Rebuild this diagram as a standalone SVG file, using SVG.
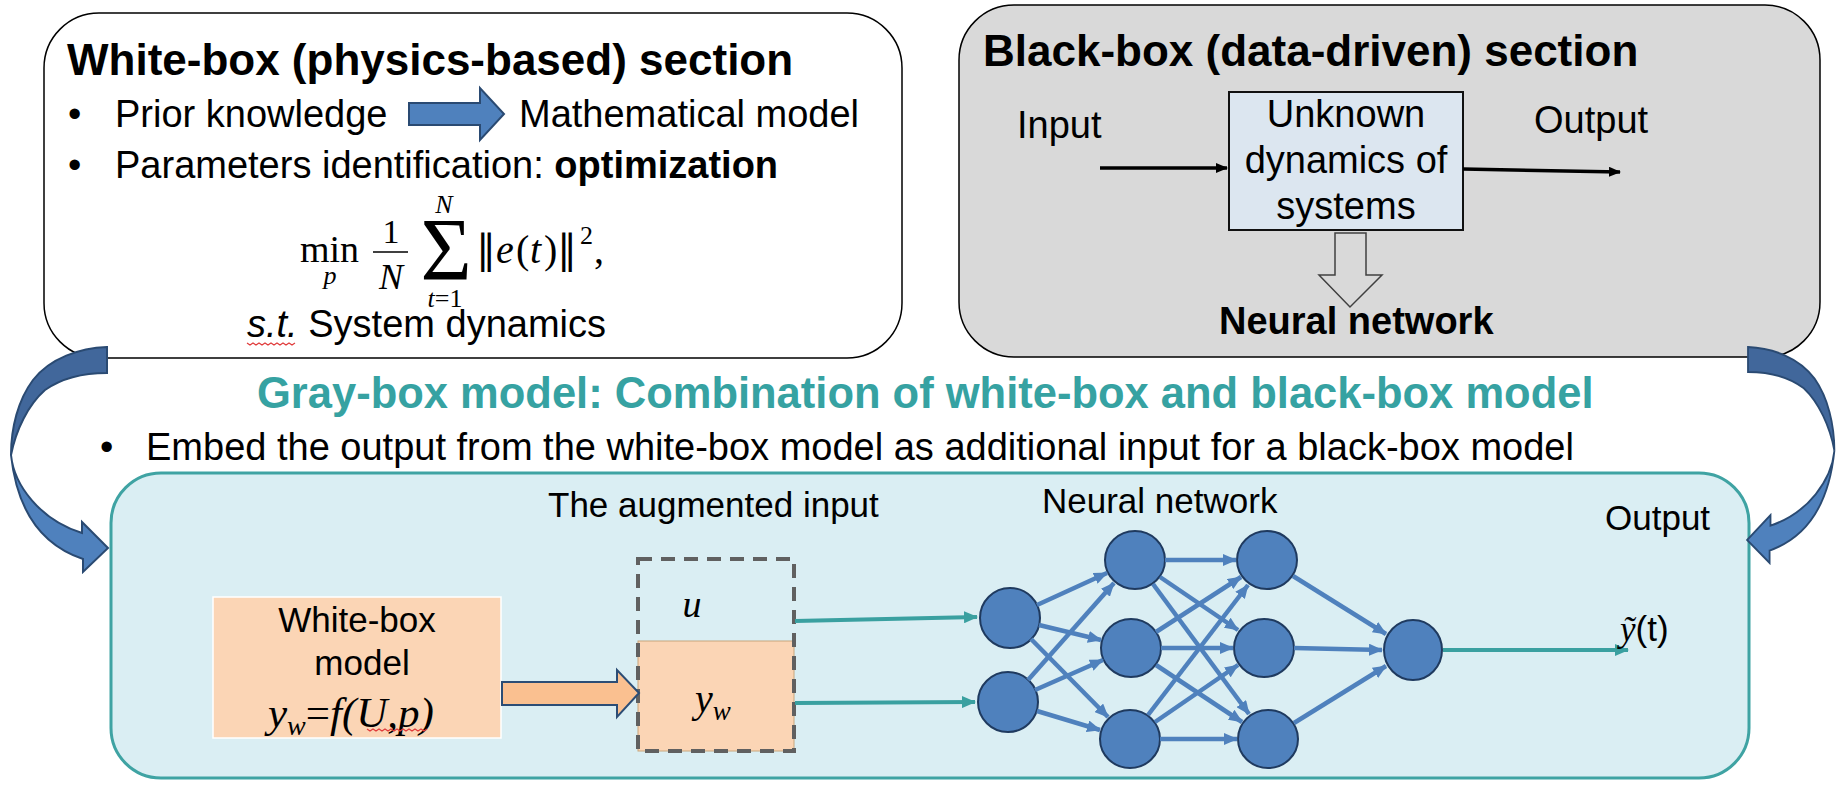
<svg xmlns="http://www.w3.org/2000/svg" width="1848" height="799" viewBox="0 0 1848 799">
<defs>
<style>
.t{font-family:"Liberation Sans",Arial,sans-serif;fill:#000}
.b{font-weight:bold}
.m{font-family:"Liberation Serif","DejaVu Serif",serif;fill:#000}
.i{font-style:italic}
.nn{fill:#4f81bd;stroke:#1f3a5f;stroke-width:2}
.e{stroke:#4f81bd;stroke-width:4.5;fill:none;marker-end:url(#ab)}
.tl{stroke:#3aa0a0;stroke-width:4;fill:none;marker-end:url(#at)}
.sq{fill:none;stroke:#e03a3a;stroke-width:1.2}
</style>
<marker id="ab" markerUnits="userSpaceOnUse" markerWidth="14" markerHeight="12" refX="13" refY="6" orient="auto"><path d="M0,0 L14,6 L0,12 z" fill="#4f81bd"/></marker>
<marker id="at" markerUnits="userSpaceOnUse" markerWidth="14" markerHeight="12" refX="13" refY="6" orient="auto"><path d="M0,0 L14,6 L0,12 z" fill="#3aa0a0"/></marker>
<marker id="ak" markerUnits="userSpaceOnUse" markerWidth="12" markerHeight="10" refX="11" refY="5" orient="auto"><path d="M0,0 L12,5 L0,10 z" fill="#000"/></marker>
<g id="curvedArrow">
<path d="M107,347 C80,348 50,358 33,380 C18,400 11,428 11,455 C16,430 28,405 45,390 C62,378 85,373 107,373 Z" fill="#41679b" stroke="#2a4a72" stroke-width="2"/>
<path d="M11,455 C14,485 40,520 82,533 L82,522 L108,548 L83,572 L83,559 C50,548 18,520 11,455 Z" fill="#4f81bd" stroke="#2a4a72" stroke-width="2"/>
</g>
</defs>
<rect width="1848" height="799" fill="#fff"/>

<g id="whitebox">
<rect x="44" y="13" width="858" height="345" rx="55" fill="#fff" stroke="#000" stroke-width="1.5"/>
<text class="t b" x="67" y="75" font-size="44">White-box (physics-based) section</text>
<text class="t" x="68" y="127" font-size="38">•</text>
<text class="t" x="115" y="127" font-size="38">Prior knowledge</text>
<path d="M409,103 L480,103 L480,88 L504,114 L480,140 L480,125 L409,125 Z" fill="#4f81bd" stroke="#2a4a72" stroke-width="2"/>
<text class="t" x="519" y="127" font-size="38">Mathematical model</text>
<text class="t" x="68" y="178" font-size="38">•</text>
<text class="t" x="115" y="178" font-size="38">Parameters identification: <tspan class="b">optimization</tspan></text>
<text class="m" x="300" y="262" font-size="38">min</text>
<text class="m i" x="330" y="284" font-size="26" text-anchor="middle">p</text>
<text class="m" x="391" y="243" font-size="34" text-anchor="middle">1</text>
<line x1="373" y1="252" x2="408" y2="252" stroke="#000" stroke-width="1.6"/>
<text class="m i" x="391" y="289" font-size="36" text-anchor="middle">N</text>
<text class="m i" x="444" y="213" font-size="26" text-anchor="middle">N</text>
<text class="m" x="446" y="279" font-size="88" text-anchor="middle">Σ</text>
<text class="m" x="445" y="307" font-size="26" text-anchor="middle"><tspan class="i">t</tspan>=1</text>
<text class="m" y="263" font-size="40"><tspan x="476" font-family="DejaVu Serif">‖</tspan><tspan x="496" class="i">e</tspan><tspan x="516">(</tspan><tspan x="530" class="i">t</tspan><tspan x="544">)</tspan><tspan x="557" font-family="DejaVu Serif">‖</tspan></text>
<text class="m" x="580" y="244" font-size="26">2</text>
<text class="m" x="594" y="263" font-size="40">,</text>
<text class="t" x="247" y="337" font-size="38"><tspan class="i">s.t.</tspan> System dynamics</text>
<path class="sq" d="M247,343 l3,2 l3,-2 l3,2 l3,-2 l3,2 l3,-2 l3,2 l3,-2 l3,2 l3,-2 l3,2 l3,-2 l3,2 l3,-2 l3,2 l3,-2"/>
</g>

<g id="blackbox">
<rect x="959" y="5" width="861" height="352" rx="55" fill="#d9d9d9" stroke="#000" stroke-width="1.5"/>
<text class="t b" x="983" y="66" font-size="44">Black-box (data-driven) section</text>
<text class="t" x="1017" y="138" font-size="38">Input</text>
<text class="t" x="1534" y="133" font-size="38">Output</text>
<rect x="1229" y="92" width="234" height="138" fill="#dce6f0" stroke="#111" stroke-width="2"/>
<text class="t" x="1346" y="127" font-size="38" text-anchor="middle">Unknown</text>
<text class="t" x="1346" y="173" font-size="38" text-anchor="middle">dynamics of</text>
<text class="t" x="1346" y="219" font-size="38" text-anchor="middle">systems</text>
<path d="M1335,233 L1366,233 L1366,275 L1382,275 L1350,307 L1319,275 L1335,275 Z" fill="#d9d9d9" stroke="#404040" stroke-width="1.5"/>
<text class="t b" x="1219" y="334" font-size="38">Neural network</text>
</g>

<g id="graybox-title">
<text x="257" y="408" font-size="43.5" font-family="Liberation Sans, Arial, sans-serif" font-weight="bold" fill="#36a2a2">Gray-box model: Combination of white-box and black-box model</text>
<text class="t" x="100" y="460" font-size="38">•</text>
<text class="t" x="146" y="460" font-size="38">Embed the output from the white-box model as additional input for a black-box model</text>
</g>

<g id="graybox">
<rect x="111" y="473" width="1638" height="305" rx="50" fill="#daeef3" stroke="#3fa3a3" stroke-width="3"/>
<text class="t" x="548" y="517" font-size="35">The augmented input</text>
<text class="t" x="1042" y="513" font-size="35">Neural network</text>
<text class="t" x="1605" y="530" font-size="35">Output</text>
</g>

<g id="whitebox-model">
<rect x="213" y="597" width="288" height="141" fill="#fbd5b5" stroke="#fff" stroke-width="1.5"/>
<text class="t" x="357" y="632" font-size="35" text-anchor="middle">White-box</text>
<text class="t" x="362" y="675" font-size="35" text-anchor="middle">model</text>
<text class="m i" x="268" y="727" font-size="43">y<tspan font-size="28" dy="8">w</tspan><tspan dy="-8" font-style="normal">=</tspan>f(U,p)</text>
<path class="sq" d="M367,729 l3,2 l3,-2 l3,2 l3,-2 l3,2 l3,-2 l3,2 l3,-2 l3,2 l3,-2 l3,2 l3,-2 l3,2 l3,-2 l3,2 l3,-2 l3,2 l3,-2 l3,2 l3,-2"/>
</g>

<g id="augmented-input">
<rect x="638" y="641" width="156" height="110" fill="#fbd5b5" stroke="#c8a67c" stroke-width="1"/>
<rect x="638" y="559" width="156" height="192" fill="none" stroke="#606060" stroke-width="4" stroke-dasharray="14,9"/>
<text class="m i" x="692" y="617" font-size="38" text-anchor="middle">u</text>
<text class="m i" x="695" y="712" font-size="40">y<tspan font-size="27" dy="8">w</tspan></text>
</g>

<g id="nodes">
<ellipse id="n1a" class="nn" cx="1010" cy="618" rx="30" ry="30"/>
<ellipse id="n1b" class="nn" cx="1008" cy="702" rx="30" ry="30"/>
<ellipse id="n2a" class="nn" cx="1135" cy="560" rx="30" ry="29"/>
<ellipse id="n2b" class="nn" cx="1131" cy="648" rx="30" ry="29"/>
<ellipse id="n2c" class="nn" cx="1130" cy="739" rx="30" ry="29"/>
<ellipse id="n3a" class="nn" cx="1267" cy="560" rx="30" ry="29"/>
<ellipse id="n3b" class="nn" cx="1264" cy="648" rx="30" ry="29"/>
<ellipse id="n3c" class="nn" cx="1268" cy="739" rx="30" ry="29"/>
<ellipse id="nout" class="nn" cx="1413" cy="650" rx="29" ry="30"/>
</g>

<g id="connectors">
<path d="M502,682 L617,682 L617,670 L639,693 L617,717 L617,705 L502,705 Z" fill="#fac090" stroke="#2c4d75" stroke-width="2"/>
<line x1="1100" y1="168" x2="1227" y2="168" stroke="#000" stroke-width="3.5" marker-end="url(#ak)"/>
<line x1="1463" y1="169" x2="1620" y2="172" stroke="#000" stroke-width="3.5" marker-end="url(#ak)"/>
<line class="tl" x1="795" y1="621" x2="977" y2="617"/>
<line class="tl" x1="795" y1="703" x2="975" y2="702"/>
<line class="tl" x1="1443" y1="650" x2="1628" y2="650"/>
<line class="e" x1="1037" y1="605" x2="1107" y2="573"/>
<line class="e" x1="1039" y1="625" x2="1101" y2="640"/>
<line class="e" x1="1031" y1="639" x2="1108" y2="717"/>
<line class="e" x1="1028" y1="680" x2="1114" y2="583"/>
<line class="e" x1="1035" y1="690" x2="1103" y2="660"/>
<line class="e" x1="1037" y1="711" x2="1100" y2="730"/>
<line class="e" x1="1165" y1="560" x2="1236" y2="560"/>
<line class="e" x1="1160" y1="577" x2="1238" y2="630"/>
<line class="e" x1="1153" y1="584" x2="1249" y2="714"/>
<line class="e" x1="1156" y1="632" x2="1241" y2="577"/>
<line class="e" x1="1161" y1="648" x2="1233" y2="648"/>
<line class="e" x1="1156" y1="665" x2="1242" y2="722"/>
<line class="e" x1="1148" y1="715" x2="1248" y2="585"/>
<line class="e" x1="1155" y1="722" x2="1238" y2="665"/>
<line class="e" x1="1160" y1="739" x2="1237" y2="739"/>
<line class="e" x1="1293" y1="576" x2="1386" y2="634"/>
<line class="e" x1="1294" y1="648" x2="1382" y2="650"/>
<line class="e" x1="1294" y1="723" x2="1386" y2="666"/>
<use href="#curvedArrow"/>
<use href="#curvedArrow" transform="matrix(-0.9,0,0,0.96,1844.3,13.9)"/>
</g>

<g id="output-label">
<text class="m" x="1620" y="641" font-size="35"><tspan class="i">ỹ</tspan><tspan font-family="Liberation Sans, Arial, sans-serif">(t)</tspan></text>
</g>
</svg>
